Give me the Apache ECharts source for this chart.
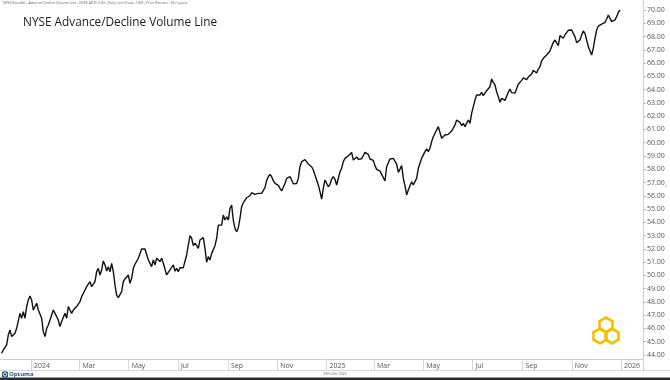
<!DOCTYPE html>
<html>
<head>
<meta charset="utf-8">
<script src="https://cdn.jsdelivr.net/npm/echarts@6/dist/echarts.min.js"></script>
<style>
  html, body { margin: 0; padding: 0; background: #ffffff; }
  #chart { width: 670px; height: 380px; }
</style>
</head>
<body>
<div id="chart"></div>
<script>
// ---- Data ----
const chartTitle = 'NYSE Advance/Decline Volume Line';
const headerText = 'NYSE Breadth - Advance Decline Volume Line - NYSE ADVL (US) - Daily Line Chart - USD - Price Returns - No Layout';
const footerDate = '29th Dec 2025';

// regular sampling of the line
const sampleStart = '2023-11-25T15:00:00Z';
const sampleStepDays = 2.065;

const adVolumeLine = [
  44.13, 44.38, 44.25, 44.76, 45.51, 45.89, 45.39, 45.26, 45.64, 46.01,
  45.89, 47.14, 46.77, 47.27, 46.77, 47.65, 48.15, 48.45, 48.15, 47.39,
  47.52, 47.90, 47.39, 47.27, 46.77, 45.76, 45.39, 46.01, 46.26, 46.39,
  47.02, 47.39, 47.14, 46.89, 46.64, 46.14, 46.52, 46.64, 47.14, 46.77,
  47.65, 47.39, 47.14, 47.39, 47.52, 47.65, 47.77, 48.02, 48.40, 48.52,
  48.90, 49.15, 49.28, 49.53, 49.15, 49.15, 49.53, 50.28, 50.53, 50.03,
  50.41, 51.09, 50.79, 50.33, 50.66, 50.28, 50.91, 50.28, 49.28, 48.52,
  48.32, 48.47, 48.78, 49.53, 49.73, 49.66, 50.03, 49.40, 49.78, 50.53,
  50.84, 50.91, 51.29, 51.41, 51.99, 52.04, 51.99, 51.92, 51.16, 51.29,
  50.66, 51.16, 50.79, 51.29, 51.41, 51.04, 51.29, 50.91, 50.79, 50.03,
  50.16, 50.41, 50.53, 50.79, 50.33, 50.53, 50.28, 50.58, 50.53, 50.58,
  50.58, 51.54, 52.29, 53.00, 52.80, 52.24, 52.42, 52.24, 52.04, 52.67,
  52.54, 52.85, 52.04,
  50.99, 51.41, 51.16, 51.66, 51.79, 52.24,
  52.79, 53.79, 53.92, 53.79, 54.55, 54.17, 54.42, 54.17, 55.05, 55.30,
  54.17, 53.54, 53.29, 53.59, 54.30, 55.18, 55.48, 55.63, 55.85, 55.88,
  56.00, 56.23, 56.31, 56.11, 56.18, 56.18, 56.16, 56.18, 56.18, 56.61,
  57.16, 57.44, 57.61, 57.44, 57.14, 56.93, 56.83, 56.78, 56.56, 56.36,
  56.36, 56.93, 57.31, 57.44, 57.44, 57.19, 56.91, 56.81, 56.93, 57.31,
  58.19, 58.57, 58.62, 58.72, 58.57, 58.39, 58.29, 58.19, 57.94, 57.56,
  57.19, 56.81, 56.31, 55.75, 56.56, 57.19, 57.26, 56.68, 56.86, 57.26,
  57.44, 57.24, 56.81, 56.88, 57.81, 58.06, 58.57, 58.82, 58.92, 59.02,
  58.87, 59.27, 58.69, 58.77, 58.92, 58.74, 58.84, 58.79, 59.02, 59.27,
  59.37, 59.12, 58.77, 58.79, 58.67, 58.27, 57.99, 58.04, 57.86, 57.61,
  57.46, 57.11, 58.19, 58.49, 58.77, 58.67, 58.82, 58.74, 58.39, 57.76,
  58.01, 58.27, 57.31, 56.76, 56.06, 56.43, 56.40,
  57.06, 56.81, 56.69, 57.31, 58.07, 58.45, 58.82, 58.95, 59.33, 59.53,
  59.33, 59.58, 60.08, 60.45, 60.71, 60.78, 61.21, 61.08, 60.33, 60.20,
  60.58, 60.53, 60.63, 60.71, 60.88, 60.83, 61.33, 61.71, 61.79, 61.53,
  61.28, 61.46, 61.21, 61.33, 61.71, 61.46, 62.21, 62.72, 63.22, 63.59,
  63.65, 63.59, 63.80, 63.54, 63.39, 63.92, 63.99, 64.22, 64.80, 64.55,
  64.35, 63.84, 63.47, 63.04, 63.34, 63.29, 63.19, 63.27, 63.80, 64.05,
  63.77, 63.72, 63.75, 63.90, 64.40, 64.53, 64.70, 64.88, 64.85, 64.75,
  64.95, 65.08, 65.18, 65.45, 65.48, 65.25, 65.55, 65.73, 66.16, 66.36,
  66.31, 66.61, 66.73, 66.91, 67.24, 67.56, 67.74, 67.61, 67.31, 68.07,
  67.97, 67.87, 68.12, 68.07, 68.47, 68.62, 68.49, 68.24, 67.99, 67.54,
  67.46, 67.74, 68.12, 68.42, 68.24, 67.74, 67.24, 67.11, 66.61, 67.11,
  67.87, 68.49, 68.79, 68.67, 68.94, 68.87, 69.07, 69.32, 69.62, 69.37,
  69.12, 69.00, 69.25, 69.50, 69.82, 70.00
];

// x-axis tick labels
const tickDates = ['2024-01-01','2024-03-01','2024-05-01','2024-07-01','2024-09-01','2024-11-01',
                   '2025-01-01','2025-03-01','2025-05-01','2025-07-01','2025-09-01','2025-11-01','2026-01-01'];
const tickLabels = ['2024','Mar','May','Jul','Sep','Nov','2025','Mar','May','Jul','Sep','Nov','2026'];

// axis ranges
const xAxisStart = '2023-11-23T14:00:00Z';
const xAxisEnd = '2026-01-28T06:30:00Z';
const yMin = 44, yMax = 70, yStep = 1;

// ---- Build ----
const DAY = 86400000;
const t0 = Date.parse(sampleStart);
const seriesData = adVolumeLine.map((v, i) => [t0 + i * sampleStepDays * DAY, v]);
const tickTimes = tickDates.map(d => Date.parse(d + 'T00:00:00Z'));

function hexPoints(cx, cy, r) {
  const pts = [];
  for (let k = 0; k < 6; k++) {
    const a = Math.PI / 180 * (60 * k - 90);
    pts.push([cx + r * Math.cos(a), cy + r * Math.sin(a)]);
  }
  return pts;
}
const gold = '#f5c000';
const FONT = '"Open Sans", "Noto Sans", sans-serif';

const chart = echarts.init(document.getElementById('chart'), null, { renderer: 'canvas' });
chart.setOption({
  animation: false,
  backgroundColor: '#ffffff',
  grid: { left: 0, right: 27, top: 10, bottom: 25, containLabel: false },
  xAxis: {
    type: 'value',
    min: Date.parse(xAxisStart),
    max: Date.parse(xAxisEnd),
    offset: 4,
    axisLine: { show: true, lineStyle: { color: '#d0d0d0', width: 1 } },
    axisTick: { show: true, customValues: tickTimes, length: 11, inside: false, lineStyle: { color: '#d8d8d8' } },
    axisLabel: {
      customValues: tickTimes,
      formatter: (val) => {
        let best = 0;
        for (let k = 1; k < tickTimes.length; k++) {
          if (Math.abs(tickTimes[k] - val) < Math.abs(tickTimes[best] - val)) best = k;
        }
        return tickLabels[best];
      },
      align: 'left',
      padding: [0, 0, 0, 3],
      margin: 3,
      fontSize: 7,
      color: '#555',
      fontFamily: FONT,
      showMinLabel: true,
      showMaxLabel: true
    },
    splitLine: { show: false }
  },
  yAxis: {
    type: 'value',
    position: 'right',
    min: yMin, max: yMax, interval: yStep,
    axisLine: { show: false },
    axisTick: { show: true, length: 3, lineStyle: { color: '#bbb' } },
    axisLabel: {
      formatter: v => v.toFixed(2),
      fontSize: 7,
      color: '#555',
      margin: 4,
      fontFamily: FONT
    },
    splitLine: { show: false }
  },
  series: [{
    type: 'line',
    data: seriesData,
    showSymbol: false,
    clip: false,
    lineStyle: { color: '#111', width: 1.4 }
  }],
  graphic: [
    { type: 'line', shape: { x1: 643.5, y1: 0, x2: 643.5, y2: 370 }, style: { stroke: '#d0d0d0', lineWidth: 1 } },
    { type: 'line', shape: { x1: 0, y1: 370.5, x2: 670, y2: 370.5 }, style: { stroke: '#d8d8d8', lineWidth: 1 } },
    { type: 'rect', shape: { x: 0, y: 377.5, width: 670, height: 3 }, style: { fill: '#2b2b2b' } },
    { type: 'text', left: 3, top: 1, style: { text: headerText, fontSize: 3.5, fill: '#666', fontFamily: FONT } },
    { type: 'text', left: 23, top: 16.5, style: { text: chartTitle, fontSize: 11.8, fill: '#1a1a1a', fontFamily: FONT } },
    { type: 'text', x: 335, y: 374, style: { text: footerDate, fontSize: 3.5, fill: '#666', align: 'center', verticalAlign: 'middle', fontFamily: FONT } },
    { type: 'text', x: 666, y: 186, style: { text: '‹', fontSize: 7, fill: '#888', align: 'center', verticalAlign: 'middle', fontFamily: FONT } },
    { type: 'rect', shape: { x: 2, y: 371.5, width: 6, height: 6, r: 1 }, style: { fill: '#1d4f91' } },
    { type: 'circle', shape: { cx: 5, cy: 374.5, r: 1.7 }, style: { fill: 'none', stroke: '#ffffff', lineWidth: 0.9 } },
    { type: 'text', x: 9, y: 374.7, style: { text: 'Optuma', fontSize: 6, fontWeight: 'bold', fill: '#1d4f91', verticalAlign: 'middle', fontFamily: FONT } },
    { type: 'polygon', shape: { points: hexPoints(606, 325, 7.5) }, style: { fill: 'none', stroke: gold, lineWidth: 2.6 } },
    { type: 'polygon', shape: { points: hexPoints(600, 336, 7.5) }, style: { fill: 'none', stroke: gold, lineWidth: 2.6 } },
    { type: 'polygon', shape: { points: hexPoints(612, 336, 7.5) }, style: { fill: 'none', stroke: gold, lineWidth: 2.6 } }
  ]
});
</script>
</body>
</html>
